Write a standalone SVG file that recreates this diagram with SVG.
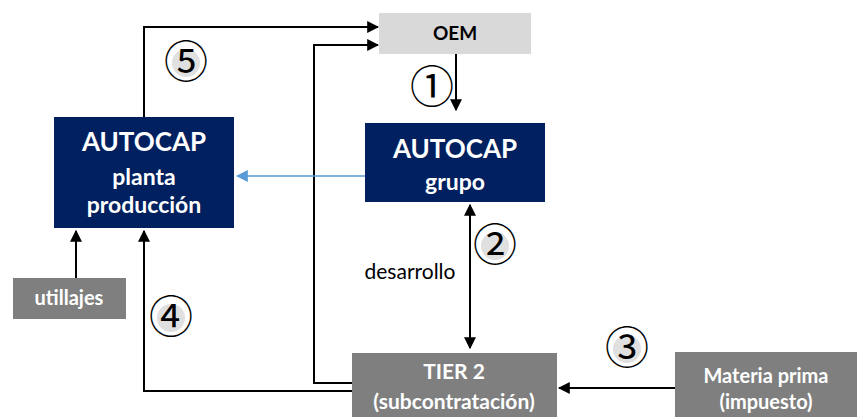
<svg xmlns="http://www.w3.org/2000/svg" width="857" height="417" viewBox="0 0 857 417">
<style>
.navy{fill:#002060}
.gray{fill:#7F7F7F}
.light{fill:#D9D9D9}
.t{font-family:Lato,"Open Sans","Liberation Sans",sans-serif;font-weight:bold;text-anchor:middle}
.w{fill:#FFFFFF}
.k{fill:#000000}
.ln{fill:none;stroke:#000;stroke-width:2}
.num{font-family:"Noto Sans CJK JP","DejaVu Sans",sans-serif;font-size:44px;text-anchor:middle;fill:#000}
.bg{fill:#E0E0E0}
</style>
<defs>
<marker id="ah" viewBox="0 0 10 10" refX="9" refY="5" markerWidth="6" markerHeight="6" markerUnits="strokeWidth" orient="auto-start-reverse"><path d="M0,0 L10,5 L0,10 z" fill="#000"/></marker>
<marker id="ahb" viewBox="0 0 10 10" refX="9" refY="5" markerWidth="8" markerHeight="8" markerUnits="strokeWidth" orient="auto"><path d="M0,0 L10,5 L0,10 z" fill="#5B9BD5"/></marker>
</defs>
<g id="connectors">
<path class="ln" d="M144,117 V27 H378" marker-end="url(#ah)"/>
<path class="ln" d="M352,383 H314 V45 H378" marker-end="url(#ah)"/>
<path class="ln" d="M456,54 V110" marker-end="url(#ah)"/>
<path class="ln" d="M470,205 V348" marker-start="url(#ah)" marker-end="url(#ah)"/>
<path class="ln" d="M675,388 H559" marker-end="url(#ah)"/>
<path class="ln" d="M352,391 H144 V231" marker-end="url(#ah)"/>
<path class="ln" d="M76,278 V231" marker-end="url(#ah)"/>
<path d="M367,167 V176 H237" fill="none" stroke="#5B9BD5" stroke-width="1.5" marker-end="url(#ahb)"/>
</g>
<g id="labels">
<circle class="bg" cx="186" cy="63" r="14"/>
<text class="num" x="186" y="78">⑤</text>
<text class="num" x="432" y="103">①</text>
<circle class="bg" cx="495" cy="246" r="14"/>
<text class="num" x="495" y="261">②</text>
<circle class="bg" cx="627" cy="349" r="14"/>
<text class="num" x="627" y="364">③</text>
<circle class="bg" cx="171" cy="318" r="14"/>
<text class="num" x="171" y="333">④</text>
<text x="410" y="279" font-family="Lato,'Open Sans','Liberation Sans',sans-serif" font-size="21" text-anchor="middle" fill="#000">desarrollo</text>
</g>
<g id="oem">
<rect class="light" x="379" y="13" width="152" height="41"/>
<text class="t k" x="455" y="40" font-size="19">OEM</text>
</g>
<g id="planta">
<rect class="navy" x="54" y="117" width="180" height="111"/>
<text class="t w" x="144" y="151" font-size="26">AUTOCAP</text>
<text class="t w" x="144" y="185" font-size="23">planta</text>
<text class="t w" x="144" y="213" font-size="23">producción</text>
</g>
<g id="grupo">
<rect class="navy" x="365" y="123" width="180" height="79"/>
<text class="t w" x="455" y="158" font-size="26">AUTOCAP</text>
<text class="t w" x="455" y="190" font-size="23">grupo</text>
</g>
<g id="utillajes">
<rect class="gray" x="13" y="278" width="113" height="41"/>
<text class="t w" x="69" y="305" font-size="20">utillajes</text>
</g>
<g id="tier2">
<rect class="gray" x="352" y="353" width="205" height="64"/>
<text class="t w" x="454" y="379" font-size="21">TIER 2</text>
<text class="t w" x="454" y="409" font-size="21">(subcontratación)</text>
</g>
<g id="materia">
<rect class="gray" x="675" y="352" width="182" height="65"/>
<text class="t w" x="766" y="383" font-size="20">Materia prima</text>
<text class="t w" x="766" y="409" font-size="20">(impuesto)</text>
</g>
</svg>
